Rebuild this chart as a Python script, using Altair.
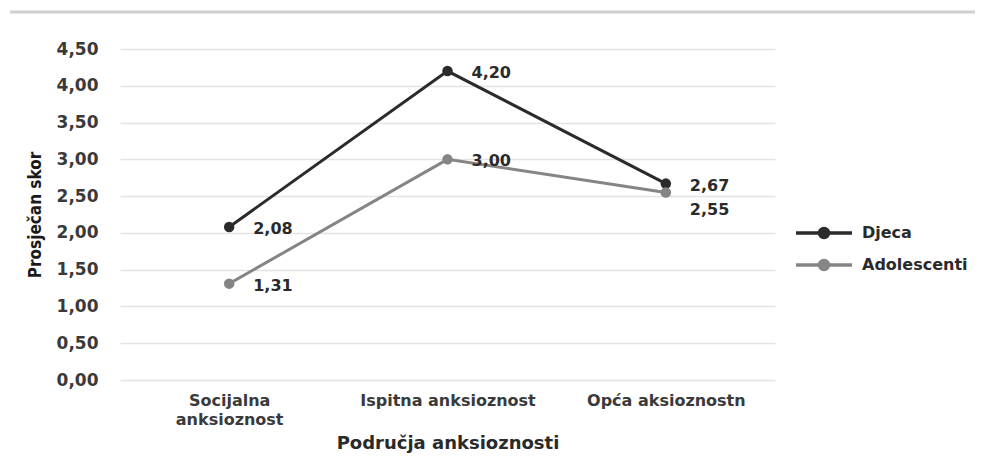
import altair as alt
import pandas as pd

categories = ["Socijalna anksioznost", "Ispitna anksioznost", "Opća aksioznostn"]
djeca = [2.08, 4.20, 2.67]
adolescenti = [1.31, 3.00, 2.55]
series_names = ["Djeca", "Adolescenti"]
series_colors = ["#2b2b2b", "#858585"]
y_ticks = [0, 0.5, 1, 1.5, 2, 2.5, 3, 3.5, 4, 4.5]

rows = []
for name, vals in zip(series_names, [djeca, adolescenti]):
    for c, v in zip(categories, vals):
        rows.append({"cat": c, "series": name, "value": v})
df = pd.DataFrame(rows)

x_enc = alt.X("cat:N", sort=categories, title="Područja anksioznosti",
              scale=alt.Scale(paddingInner=0, paddingOuter=0),
              axis=alt.Axis(labelAngle=0, domain=False, ticks=False, labelPadding=12,
                            labelFont="DejaVu Sans", labelFontWeight="bold", labelFontSize=16,
                            labelColor="#3a3a3a", labelLineHeight=19, labelOverlap=False,
                            labelExpr="datum.label == 'Socijalna anksioznost' ? ['Socijalna', 'anksioznost'] : datum.label",
                            titleFont="DejaVu Sans", titleFontWeight="bold", titleFontSize=18,
                            titleColor="#2a2a2a", titlePadding=7))
y_enc = alt.Y("value:Q", title="Prosječan skor",
              scale=alt.Scale(domain=[0, 4.5], nice=False, zero=True),
              axis=alt.Axis(values=y_ticks, domain=False, ticks=False, labelPadding=22,
                            gridColor="#e3e3e3", gridWidth=1.5, labelOverlap=False,
                            labelExpr="replace(format(datum.value, '.2f'), '.', ',')",
                            labelFont="DejaVu Sans", labelFontWeight="bold", labelFontSize=17,
                            labelColor="#3a3a3a",
                            titleFont="DejaVu Sans Condensed", titleFontWeight="bold", titleFontSize=17,
                            titleColor="#1a1a1a", titlePadding=12))
color_enc = alt.Color("series:N", sort=series_names,
                      scale=alt.Scale(domain=series_names, range=series_colors),
                      legend=alt.Legend(title=None, orient="none", legendX=692, legendY=172,
                                        symbolType="M -2.8 0 L 2.8 0 M -0.45 0 A 0.45 0.45 0 1 1 0.45 0 A 0.45 0.45 0 1 1 -0.45 0",
                                        symbolSize=400, symbolStrokeWidth=3.5,
                                        labelFont="DejaVu Sans", labelFontWeight="bold", labelFontSize=16,
                                        labelColor="#2a2a2a", rowPadding=8, labelOffset=26))

base = alt.Chart(df).encode(x=x_enc, y=y_enc)
lines = base.mark_line(strokeWidth=3).encode(color=color_enc)
points = base.mark_point(filled=True, size=110, opacity=1).encode(
    color=alt.Color("series:N", sort=series_names, legend=None,
                    scale=alt.Scale(domain=series_names, range=series_colors)))
label_expr = "replace(format(datum.value, '.2f'), '.', ',')"
labels = base.transform_filter(
    "!(datum.series == 'Adolescenti' && datum.cat == 'Opća aksioznostn')"
).transform_calculate(lab=label_expr).mark_text(
    align="left", dx=24, dy=2, font="DejaVu Sans", fontWeight="bold", fontSize=16, color="#2a2a2a"
).encode(text="lab:N")
labels2 = base.transform_filter(
    "datum.series == 'Adolescenti' && datum.cat == 'Opća aksioznostn'"
).transform_calculate(lab=label_expr).mark_text(
    align="left", dx=24, dy=18, font="DejaVu Sans", fontWeight="bold", fontSize=16, color="#2a2a2a"
).encode(text="lab:N")
top_line = alt.Chart(pd.DataFrame({"a": [0]})).mark_rule(color="#d0d0d0", strokeWidth=3).encode(
    x=alt.value(-110), x2=alt.value(880), y=alt.value(-37))

chart = alt.layer(top_line, lines, points, labels, labels2).properties(
    width=655, height=331,
    autosize=alt.AutoSizeParams(type="none"),
    padding={"left": 112, "top": 41, "right": 200, "bottom": 76},
    background="#ffffff",
).configure_view(stroke=None)

chart.save("out.html", embed_options={"renderer": "svg", "actions": False})
